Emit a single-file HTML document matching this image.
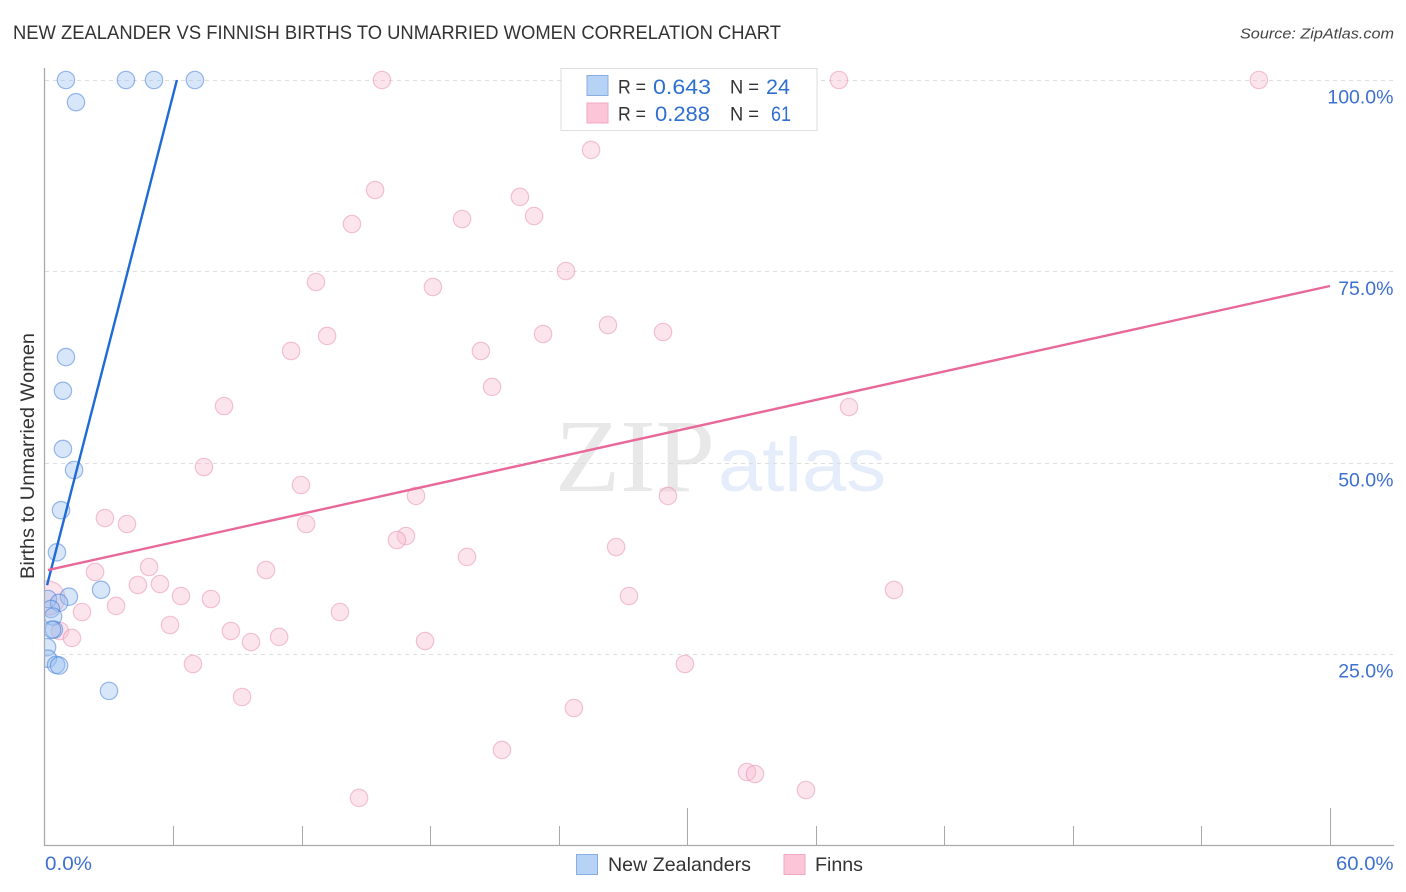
<!DOCTYPE html>
<html lang="en">
<head>
<meta charset="utf-8">
<title>New Zealander vs Finnish Births to Unmarried Women Correlation Chart</title>
<style>
html,body{margin:0;padding:0;background:#fff;width:1406px;height:892px;overflow:hidden}
svg{display:block;font-family:"Liberation Sans",sans-serif}
</style>
</head>
<body>
<svg id="chart" width="1406" height="892" viewBox="0 0 1406 892" xmlns="http://www.w3.org/2000/svg">
  <defs><clipPath id="plot-clip"><rect x="45" y="60" width="1349" height="785"/></clipPath></defs>
  <text x="13" y="39" font-size="19.5" fill="#333" textLength="768" lengthAdjust="spacingAndGlyphs">NEW ZEALANDER VS FINNISH BIRTHS TO UNMARRIED WOMEN CORRELATION CHART</text>
  <text x="1394" y="38.5" font-size="15" font-style="italic" fill="#444" text-anchor="end" textLength="154" lengthAdjust="spacingAndGlyphs">Source: ZipAtlas.com</text>
  <g>
    <text x="555" y="491" font-family="'Liberation Serif',serif" font-size="104" fill="#e8e8e8" textLength="160" lengthAdjust="spacingAndGlyphs">ZIP</text>
    <text x="718" y="491" font-size="76" fill="#e4edf9" textLength="168" lengthAdjust="spacingAndGlyphs">atlas</text>
  </g>
  <g id="grid"></g>
  <g id="axes"></g>
  <g id="marks" clip-path="url(#plot-clip)"></g>
  <g id="trends"></g>
  <text transform="translate(34 456) rotate(-90)" font-size="19" fill="#333" text-anchor="middle" textLength="246" lengthAdjust="spacingAndGlyphs">Births to Unmarried Women</text>
  <g>
    <rect x="561" y="68.5" width="256" height="62" fill="#fff" stroke="#ddd"/>
    <rect x="587" y="75.5" width="21" height="20" fill="#b6d2f5" stroke="#88aee0"/>
    <rect x="587" y="103" width="21" height="20" fill="#fcc6d8" stroke="#f0a8c0"/>
    <text x="618" y="93.5" font-size="19.5" fill="#333" textLength="28" lengthAdjust="spacingAndGlyphs">R =</text>
    <text x="653" y="94" font-size="21.5" fill="#2f6fd0" textLength="58" lengthAdjust="spacingAndGlyphs">0.643</text>
    <text x="730" y="93.5" font-size="19.5" fill="#333" textLength="29" lengthAdjust="spacingAndGlyphs">N =</text>
    <text x="766" y="94" font-size="21.5" fill="#2f6fd0" textLength="24" lengthAdjust="spacingAndGlyphs">24</text>
    <text x="618" y="120.5" font-size="19.5" fill="#333" textLength="28" lengthAdjust="spacingAndGlyphs">R =</text>
    <text x="655" y="121" font-size="21.5" fill="#2f6fd0" textLength="55" lengthAdjust="spacingAndGlyphs">0.288</text>
    <text x="730" y="120.5" font-size="19.5" fill="#333" textLength="29" lengthAdjust="spacingAndGlyphs">N =</text>
    <text x="771" y="121" font-size="21.5" fill="#2f6fd0" textLength="20" lengthAdjust="spacingAndGlyphs">61</text>
  </g>
  <g>
    <rect x="576.5" y="854.5" width="21" height="20" fill="#b6d2f5" stroke="#88aee0"/>
    <text x="608" y="871" font-size="19.5" fill="#333" textLength="143" lengthAdjust="spacingAndGlyphs">New Zealanders</text>
    <rect x="784" y="854.5" width="21" height="20" fill="#fcc6d8" stroke="#f0a8c0"/>
    <text x="815" y="871" font-size="19.5" fill="#333" textLength="48" lengthAdjust="spacingAndGlyphs">Finns</text>
  </g>
</svg>
<script>
const yTicks = [25, 50, 75, 100];
const yTickLabels = ["25.0%", "50.0%", "75.0%", "100.0%"];
const xTicks = [0, 6, 12, 18, 24, 30, 36, 42, 48, 54, 60];
const xMajorTicks = [30, 60];
const xEndLabels = ["0.0%", "60.0%"];

const nzX = [1.00, 3.80, 5.11, 7.02, 1.47, 1.00, 0.86, 0.86, 1.38, 0.77, 0.58, 2.64, 1.14, 0.16, 0.68, 0.30, 0.40, 0.44, 0.35, 0.12, 0.16, 0.54, 0.68, 3.01];
const nzY = [100, 100, 100, 100, 97.1, 63.8, 59.4, 51.8, 49.05, 43.8, 38.3, 33.4, 32.5, 32.2, 31.7, 30.9, 29.9, 28.2, 28.2, 25.9, 24.4, 23.6, 23.5, 20.2];

const finnsX = [15.75, 37.08, 56.68, 25.51, 15.43, 22.19, 19.49, 22.85, 14.35, 24.34, 12.67, 18.13, 26.30, 28.87, 23.27, 13.19, 11.51, 20.37, 20.89, 8.38, 37.55, 7.44, 11.97, 17.34, 29.10, 2.82, 3.85, 12.21, 16.87, 16.45, 26.68, 19.72, 2.36, 4.88, 10.34, 4.36, 5.39, 39.65, 6.37, 7.77, 27.28, 3.34, 1.75, 13.79, 5.86, 8.70, 0.72, 1.28, 10.95, 9.64, 17.76, 6.93, 29.89, 9.22, 24.71, 21.35, 32.79, 33.16, 35.54, 14.68];
const finnsY = [100, 100, 100, 90.86, 85.63, 84.72, 81.84, 82.23, 81.19, 75.05, 73.61, 72.96, 67.99, 67.08, 66.82, 66.56, 64.60, 64.60, 59.90, 57.41, 57.28, 49.44, 47.09, 45.66, 45.66, 42.78, 42.00, 42.00, 40.43, 39.91, 38.99, 37.69, 35.73, 36.38, 35.99, 34.03, 34.16, 33.38, 32.59, 32.20, 32.59, 31.29, 30.50, 30.50, 28.80, 28.02, 28.02, 27.11, 27.24, 26.58, 26.71, 23.71, 23.71, 19.40, 17.96, 12.48, 9.60, 9.34, 7.25, 6.21];
const finnsLargeX = [0.16];
const finnsLargeY = [32.33];

const nzTrendX = [0.12, 6.18];
const nzTrendY = [34.0, 100];
const finnsTrendX = [0.16, 60];
const finnsTrendY = [35.98, 73.09];

const NS = "http://www.w3.org/2000/svg";
function xScale(v) { return 44.5 + v * (1285.5 / 60); }
function yScale(v) { return 845.5 - v * 7.655; }
function make(parent, tag, attrs, txt) {
  const el = document.createElementNS(NS, tag);
  for (const k in attrs) el.setAttribute(k, attrs[k]);
  if (txt !== undefined) el.textContent = txt;
  parent.appendChild(el);
  return el;
}
const grid = document.getElementById("grid");
const axes = document.getElementById("axes");
const marks = document.getElementById("marks");
const trends = document.getElementById("trends");
const LABEL = "#3d70cf";

yTicks.forEach(function (t, i) {
  const y = Math.round(yScale(t)) + 0.5;
  const g = make(grid, "line", {x1: 45, x2: 1394, y1: y, y2: y, stroke: "#ddd", "stroke-width": 1, "stroke-dasharray": "4 4"});
  
  
  const l = make(axes, "text", {x: 1393.5, y: yScale(t) + 23.5, "font-size": 19.5, fill: LABEL, "text-anchor": "end"}, yTickLabels[i]);
  
  
});

const yAxis = make(axes, "line", {x1: 44.5, x2: 44.5, y1: 68, y2: 846, stroke: "#aaa", "stroke-width": 1.3});


const xAxis = make(axes, "line", {x1: 44, x2: 1394, y1: 845.5, y2: 845.5, stroke: "#aaa", "stroke-width": 1.3});



xTicks.forEach(function (t) {
  if (t === 0) return;
  const x = Math.round(xScale(t)) + 0.5;
  const top = xMajorTicks.indexOf(t) >= 0 ? 808 : 826;
  const tk = make(axes, "line", {x1: x, x2: x, y1: top, y2: 845, stroke: "#aaa", "stroke-width": 1});
  
  
});

const xl0 = make(axes, "text", {x: 45, y: 870, "font-size": 19.5, fill: LABEL, textLength: 47, lengthAdjust: "spacingAndGlyphs"}, xEndLabels[0]);


const xl1 = make(axes, "text", {x: 1336, y: 870, "font-size": 19.5, fill: LABEL, textLength: 57.5, lengthAdjust: "spacingAndGlyphs"}, xEndLabels[1]);



function drawFinn(xs, ys, r) {
  xs.forEach(function (v, i) {
    const c = make(marks, "circle", {cx: xScale(v), cy: yScale(ys[i]), r: r, fill: "rgba(249,190,212,0.42)", stroke: "rgba(232,140,172,0.5)", "stroke-width": 1.2});
    
    
  });
}
drawFinn(finnsLargeX, finnsLargeY, 17);
drawFinn(finnsX, finnsY, 8.7);

nzX.forEach(function (v, i) {
  const c = make(marks, "circle", {cx: xScale(v), cy: yScale(nzY[i]), r: 8.7, fill: "rgba(150,190,240,0.38)", stroke: "rgba(60,120,215,0.5)", "stroke-width": 1.2});
  
  
});

const tn = make(trends, "line", {x1: xScale(nzTrendX[0]), y1: yScale(nzTrendY[0]), x2: xScale(nzTrendX[1]), y2: yScale(nzTrendY[1]), stroke: "#1f6bd6", "stroke-width": 2.4});


const tf = make(trends, "line", {x1: xScale(finnsTrendX[0]), y1: yScale(finnsTrendY[0]), x2: xScale(finnsTrendX[1]), y2: yScale(finnsTrendY[1]), stroke: "#e8689a", "stroke-width": 2.4});


</script>
</body>
</html>
